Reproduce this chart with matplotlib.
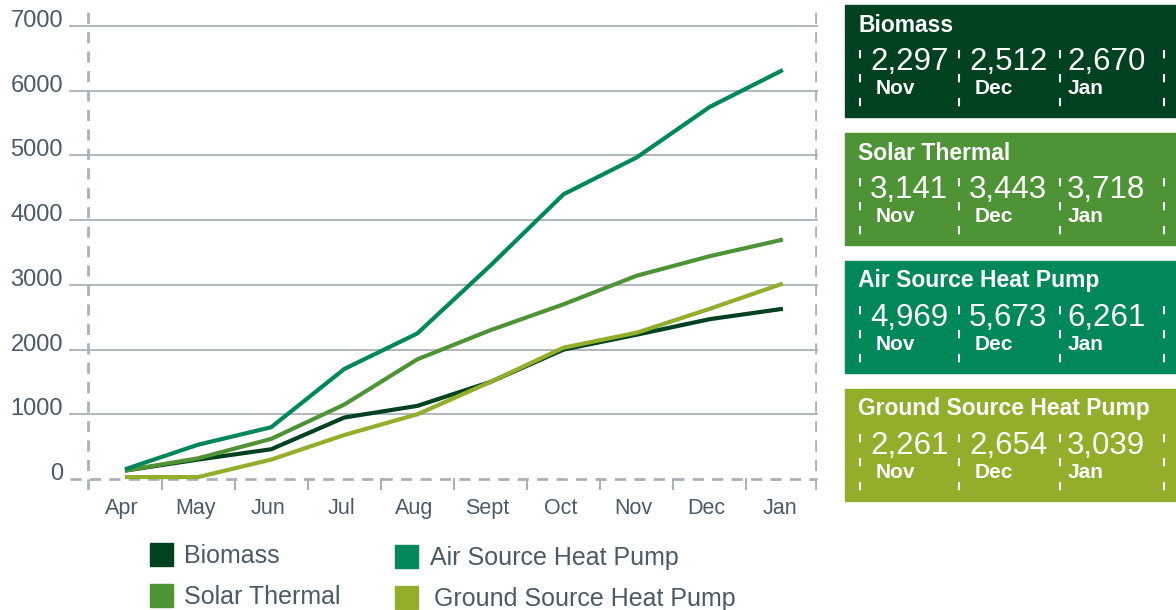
import matplotlib
matplotlib.use("Agg")
import matplotlib.pyplot as plt
from matplotlib.patches import Rectangle

plt.rcParams['font.family'] = ['Liberation Sans', 'DejaVu Sans']

months = ["Apr", "May", "Jun", "Jul", "Aug", "Sept", "Oct", "Nov", "Dec", "Jan"]
series_names = ["Biomass", "Solar Thermal", "Air Source Heat Pump", "Ground Source Heat Pump"]
biomass = [130, 300, 460, 950, 1130, 1500, 2000, 2230, 2470, 2630]
solar_thermal = [130, 320, 620, 1150, 1850, 2300, 2700, 3141, 3443, 3700]
air_source = [150, 530, 800, 1700, 2250, 3300, 4400, 4969, 5750, 6320]
ground_source = [30, 30, 300, 680, 1000, 1500, 2030, 2261, 2630, 3020]
yticks = [0, 1000, 2000, 3000, 4000, 5000, 6000, 7000]
panel_months = ["Nov", "Dec", "Jan"]
panel_biomass = [2297, 2512, 2670]
panel_solar = [3141, 3443, 3718]
panel_air = [4969, 5673, 6261]
panel_ground = [2261, 2654, 3039]

colors = ["#00411f", "#4e9335", "#00875a", "#93ae2b"]
series = [biomass, solar_thermal, air_source, ground_source]

W, H = 1176, 610
fig = plt.figure(figsize=(W / 100, H / 100), dpi=100)

L, R, T, B = 87, 817, 5, 490
ax = fig.add_axes([L / W, (H - B) / H, (R - L) / W, (B - T) / H])
y0px, y7px = 479, 26
ppu = (y0px - y7px) / 7000.0
ax.set_ylim(-(B - y0px) / ppu, (y0px - T) / ppu)
xpx0, xstep = 125, 73.1
ax.set_xlim((L - xpx0) / xstep, (R - xpx0) / xstep)
for s in ax.spines.values():
    s.set_visible(False)
ax.set_xticks([])
ax.set_yticks([])

grid_c = "#a9b1b8"
text_c = "#4b5a66"
xleft = (70 - xpx0) / xstep
xright = (R - xpx0) / xstep
for v in yticks[1:]:
    ax.plot([xleft, xright], [v, v], color=grid_c, lw=1.3, clip_on=False, zorder=1)
ax.plot([xleft, xright], [0, 0], color=grid_c, lw=2, ls=(0, (4, 3)), clip_on=False, zorder=1)
ax.axvline(ax.get_xlim()[0] + 0.01, color=grid_c, lw=2, ls=(0, (4, 3)), zorder=1)
ax.axvline(ax.get_xlim()[1] - 0.01, color=grid_c, lw=2, ls=(0, (4, 3)), zorder=1)
for i in range(len(months) - 1):
    ax.plot([i + 0.5, i + 0.5], [0, ax.get_ylim()[0]], color=grid_c, lw=1.5, zorder=1)

for v in yticks:
    ax.text(xleft - 7 / xstep, v - 1 / ppu, str(v), ha="right", va="baseline", fontsize=17,
            color=text_c, clip_on=False)
for i, m in enumerate(months):
    ax.text(i - 3 / xstep, -35 / ppu, m, ha="center", va="baseline", fontsize=15.5,
            color=text_c, clip_on=False)

x = list(range(len(months)))
for vals, c in zip(series, colors):
    ax.plot(x, vals, color=c, lw=3, solid_capstyle="butt", zorder=3)

ov = fig.add_axes([0, 0, 1, 1])
ov.set_xlim(0, W)
ov.set_ylim(H, 0)
ov.axis("off")

leg_pos = [(150, 543), (150, 584), (395, 545), (395, 586)]
leg_text_x = [184, 184, 430, 434]
for (lx, ly), tx, name, c in zip(leg_pos, leg_text_x, series_names, colors):
    ov.add_patch(Rectangle((lx, ly), 23, 23, color=c))
    ov.text(tx, ly + 13, name, fontsize=18, color=text_c, va="center", ha="left")

panel_tops = [5, 133, 261, 389]
panel_h = 112
panel_vals = [panel_biomass, panel_solar, panel_air, panel_ground]
num_x = [870, 969, 1067]
mon_x = [876, 975, 1068]
sep_x = [860, 959, 1060, 1164]
for top, name, c, vals in zip(panel_tops, series_names, colors, panel_vals):
    ov.add_patch(Rectangle((845, top), W - 845, panel_h, color=c))
    ov.text(858, top + 20, name, fontsize=16.5, fontweight="bold", color="white",
            va="center", ha="left")
    for nx, mx, v, m in zip(num_x, mon_x, vals, panel_months):
        ov.text(nx, top + 57, f"{v:,}", fontsize=22.5, color="white", va="center",
                ha="left", fontweight="light")
        ov.text(mx, top + 84, m, fontsize=15, fontweight="bold", color="white",
                va="center", ha="left")
    for sx in sep_x:
        ov.plot([sx, sx], [top + 45, top + 102], color="white", lw=1.5,
                ls=(0, (4, 7.5)))

fig.savefig("out.png", dpi=100)
